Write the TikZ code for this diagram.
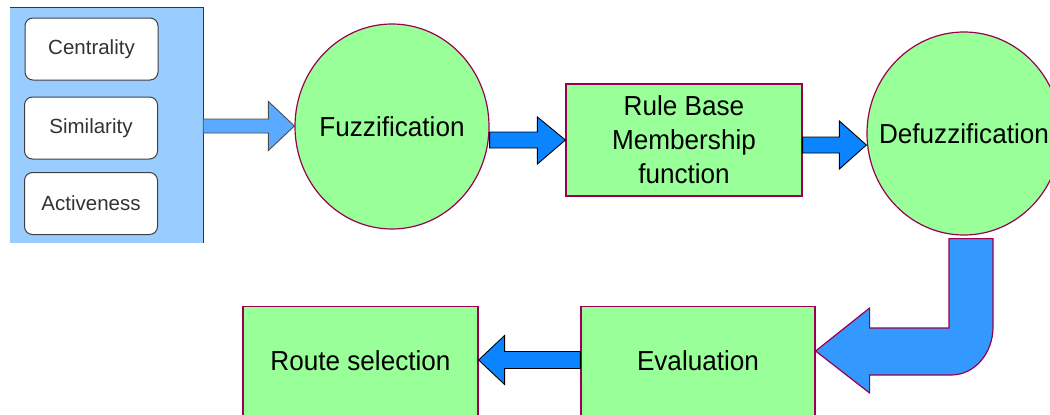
\documentclass[tikz,border=0pt]{standalone}
\usepackage{fontspec}
\setmainfont{Liberation Sans}
\newfontfamily\bigfont{Liberation Sans}[FakeStretch=0.95]
\usetikzlibrary{calc,shapes.geometric}
\definecolor{panelblue}{HTML}{99CCFF}
\definecolor{boxgreen}{HTML}{99FF99}
\definecolor{bordermaroon}{HTML}{990050}
\definecolor{arrowblue}{HTML}{0A84FF}
\definecolor{lightarrow}{HTML}{5AAAFF}
\definecolor{larrowblue}{HTML}{3399FF}
\definecolor{smalltext}{HTML}{333333}
\begin{document}
\begin{tikzpicture}[x=1pt,y=-1pt,
  greenbox/.style={draw=bordermaroon, fill=boxgreen, line width=1.2pt, rectangle, inner sep=0pt,
    font=\bigfont\fontsize{27.5}{34}\selectfont, align=center},
  greenell/.style={draw=bordermaroon, fill=boxgreen, line width=1.2pt, ellipse, inner sep=0pt,
    font=\bigfont\fontsize{27.5}{34}\selectfont},
  smallbox/.style={draw=black!75, fill=white, rounded corners=8pt, line width=1pt,
    minimum width=133, minimum height=62, inner sep=0pt,
    font=\fontsize{20.5}{24}\selectfont, text=smalltext},
  blockarrow/.style={draw=black, fill=arrowblue, line width=0.9pt, line join=miter},
  lightblockarrow/.style={draw=black!70, fill=lightarrow, line width=0.9pt, line join=miter},
  bentarrow/.style={draw=bordermaroon, fill=larrowblue, line width=1.2pt, line join=miter}]
\useasboundingbox (0,0) rectangle (1050,415);

% input panel
\node[fill=panelblue, minimum width=193, minimum height=235, inner sep=0pt] (panel) at (106.5,125.5) {};
\draw[bordermaroon, line width=1.2pt] (panel.north west) -- (panel.north east) -- (panel.south east);
\node[smallbox] (cen) at (91.5,49) {Centrality};
\node[smallbox] (sim) at (91,128) {Similarity};
\node[smallbox] (act) at (91,203.5) {Activeness};

% main nodes
\node[greenell, minimum width=194, minimum height=205] (fuzz) at (392,126.5) {\makebox[0pt]{Fuzzification}};
\node[greenbox, minimum width=236, minimum height=112] (rule) at (684,140) {Rule Base\\Membership\\function};
\node[greenell, minimum width=194, minimum height=203] (defuzz) at (964,133.5) {\makebox[0pt]{Defuzzification}};
\node[greenbox, anchor=north, minimum width=234, text height=64, text depth=60] (eval) at (698,306) {Evaluation};
\node[greenbox, anchor=north, minimum width=235, text height=64, text depth=60] (route) at (360.5,306) {Route selection};

% centre lines of the arrows
\coordinate (c1) at (0,126);
\coordinate (c2) at (0,140);
\coordinate (c3) at (0,145);
\coordinate (c4) at (0,360);
\coordinate (c5) at (0,351);

% panel -> fuzzification
\draw[lightblockarrow] ($(panel.east|-c1)+(0,-7)$) -- ($(fuzz.west|-c1)+(-26,-7)$) -- ($(fuzz.west|-c1)+(-26,-24.5)$)
  -- (fuzz.west|-c1) -- ($(fuzz.west|-c1)+(-26,24.5)$) -- ($(fuzz.west|-c1)+(-26,7)$) -- ($(panel.east|-c1)+(0,7)$) -- cycle;
% fuzzification -> rule base
\draw[blockarrow] ($(fuzz.east|-c2)+(0,-8)$) -- ($(rule.west|-c2)+(-28,-8)$) -- ($(rule.west|-c2)+(-28,-23)$)
  -- (rule.west|-c2) -- ($(rule.west|-c2)+(-28,24)$) -- ($(rule.west|-c2)+(-28,8)$) -- ($(fuzz.east|-c2)+(0,8)$) -- cycle;
% rule base -> defuzzification
\draw[blockarrow] ($(rule.east|-c3)+(0,-8)$) -- ($(defuzz.west|-c3)+(-27,-8)$) -- ($(defuzz.west|-c3)+(-27,-24)$)
  -- (defuzz.west|-c3) -- ($(defuzz.west|-c3)+(-27,24)$) -- ($(defuzz.west|-c3)+(-27,8)$) -- ($(rule.east|-c3)+(0,8)$) -- cycle;
% evaluation -> route selection
\draw[blockarrow] ($(eval.west|-c4)+(0,-8.5)$) -- ($(route.east|-c4)+(26,-8.5)$) -- ($(route.east|-c4)+(26,-24.5)$)
  -- (route.east|-c4) -- ($(route.east|-c4)+(26,24.5)$) -- ($(route.east|-c4)+(26,8.5)$) -- ($(eval.west|-c4)+(0,8.5)$) -- cycle;
% defuzzification -> evaluation (bent arrow)
\coordinate (d1) at (949,0);
\coordinate (d2) at (993,0);
\draw[bentarrow] ($(d1|-defuzz.south)+(0,3)$) -- ($(d2|-defuzz.south)+(0,3)$) -- ($(d2|-c5)+(0,-24)$)
  .. controls ($(d2|-c5)+(0,2)$) and ($(d2|-c5)+(-18,24)$) .. ($(d2|-c5)+(-42,24)$)
  -- ($(eval.east|-c5)+(54,24)$) -- ($(eval.east|-c5)+(54,42)$) -- (eval.east|-c5)
  -- ($(eval.east|-c5)+(54,-43)$) -- ($(eval.east|-c5)+(54,-23)$) -- ($(d1|-c5)+(0,-23)$) -- cycle;
\end{tikzpicture}
\end{document}
